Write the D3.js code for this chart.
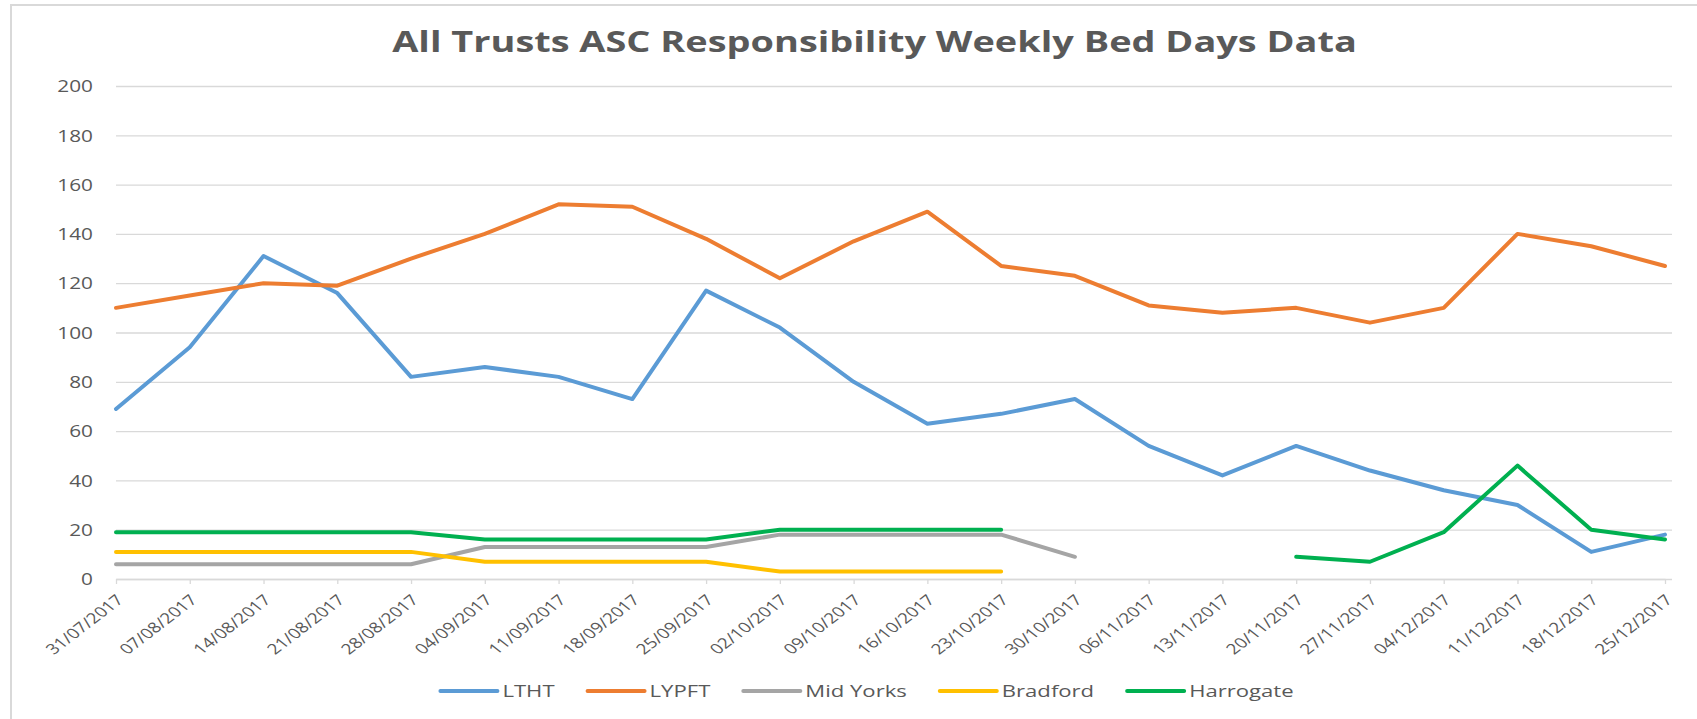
<!DOCTYPE html>
<html>
<head>
<meta charset="utf-8">
<script src="https://cdn.jsdelivr.net/npm/d3@7"></script>
<style>
  body { margin: 0; background: #fff; }
  text { font-family: "Open Sans", sans-serif; fill: #595959; }
</style>
</head>
<body>
<div id="chart"></div>
<script>
var weeks = ["31/07/2017", "07/08/2017", "14/08/2017", "21/08/2017", "28/08/2017", "04/09/2017",
  "11/09/2017", "18/09/2017", "25/09/2017", "02/10/2017", "09/10/2017", "16/10/2017",
  "23/10/2017", "30/10/2017", "06/11/2017", "13/11/2017", "20/11/2017", "27/11/2017",
  "04/12/2017", "11/12/2017", "18/12/2017", "25/12/2017"];

var ltht = [69, 94, 131, 116, 82, 86, 82, 73, 117, 102, 80, 63, 67, 73, 54, 42, 54, 44, 36, 30, 11, 18];
var lypft = [110, 115, 120, 119, 130, 140, 152, 151, 138, 122, 137, 149, 127, 123, 111, 108, 110, 104, 110, 140, 135, 127];
var midYorks = [6, 6, 6, 6, 6, 13, 13, 13, 13, 18, 18, 18, 18, 9, null, null, null, null, null, null, null, null];
var bradford = [11, 11, 11, 11, 11, 7, 7, 7, 7, 3, 3, 3, 3, null, null, null, null, null, null, null, null, null];
var harrogate = [19, 19, 19, 19, 19, 16, 16, 16, 16, 20, 20, 20, 20, null, null, null, 9, 7, 19, 46, 20, 16];

var seriesNames = ["LTHT", "LYPFT", "Mid Yorks", "Bradford", "Harrogate"];
var seriesColors = ["#5B9BD5", "#ED7D31", "#A5A5A5", "#FFC000", "#00B050"];
var yTicks = [0, 20, 40, 60, 80, 100, 120, 140, 160, 180, 200];

var chartTitle = "All Trusts ASC Responsibility Weekly Bed Days Data";

var W = 1697, H = 719;
var margin = {top: 86, right: 32, bottom: 140, left: 116},
    width = W - margin.left - margin.right,
    height = H - margin.top - margin.bottom;
var sx = 1.3; // reference text is stretched sideways

var root = d3.select("#chart")
  .append("svg")
    .attr("width", W)
    .attr("height", H);

// chart area border (left and top visible)
root.append("path")
  .attr("d", "M11,719 L11,5 L1697,5")
  .attr("fill", "none")
  .attr("stroke", "#D9D9D9")
  .attr("stroke-width", 2);

var title = root.append("text")
  .attr("text-anchor", "middle")
  .style("font-size", "29px")
  .style("font-weight", "bold")
  .text(chartTitle);
var tl = title.node().getComputedTextLength();
title.attr("transform", "translate(874.5,52) scale(" + (965 / tl) + ",1)");

var svg = root.append("g")
  .attr("transform", "translate(" + margin.left + "," + margin.top + ")");

var x = d3.scalePoint()
  .domain(weeks)
  .range([0, width]);

var y = d3.scaleLinear()
  .domain([0, 200])
  .range([height, 0]);

var yAxis = svg.append("g")
  .call(d3.axisLeft(y).tickValues(yTicks).tickSize(-(width + 7)).tickPadding(0));
yAxis.select(".domain").remove();
yAxis.selectAll("line")
  .attr("stroke", "#D9D9D9")
  .attr("stroke-width", 1.3);
yAxis.selectAll("text")
  .attr("x", 0)
  .attr("dy", "0.36em")
  .attr("transform", "translate(-23,0) scale(" + sx + ",1)")
  .style("font-size", "16px")
  .attr("fill", "#595959");

var xAxis = svg.append("g")
  .attr("transform", "translate(0," + height + ")")
  .call(d3.axisBottom(x).tickSize(5).tickSizeOuter(0));
xAxis.select(".domain")
  .attr("stroke", "#D9D9D9")
  .attr("stroke-width", 1.3);
xAxis.selectAll("line")
  .attr("stroke", "#D9D9D9")
  .attr("stroke-width", 1.3);
xAxis.selectAll("text")
  .attr("x", 0)
  .attr("y", 0)
  .attr("dy", 0)
  .style("text-anchor", "end")
  .style("font-size", "14.5px")
  .attr("fill", "#595959")
  .attr("transform", "translate(8,22) scale(" + sx + ",1) rotate(-45)");

var allSeries = [ltht, lypft, midYorks, bradford, harrogate];

var line = d3.line()
  .defined(function(d) { return d != null; })
  .x(function(d, i) { return x(weeks[i]); })
  .y(function(d) { return y(d); });

svg.selectAll(".series")
  .data(allSeries)
  .enter()
  .append("path")
    .attr("class", "series")
    .attr("fill", "none")
    .attr("stroke", function(d, i) { return seriesColors[i]; })
    .attr("stroke-width", 4)
    .attr("stroke-linejoin", "round")
    .attr("stroke-linecap", "round")
    .attr("d", line);

// legend
var legend = root.append("g");
var lx = 0;
seriesNames.forEach(function(name, i) {
  var item = legend.append("g").attr("transform", "translate(" + lx + ",0)");
  item.append("line")
    .attr("x1", 2).attr("x2", 59)
    .attr("y1", 691).attr("y2", 691)
    .attr("stroke", seriesColors[i])
    .attr("stroke-width", 4)
    .attr("stroke-linecap", "round");
  var t = item.append("text")
    .style("font-size", "17px")
    .attr("transform", "translate(64,697) scale(" + sx + ",1)")
    .text(name);
  lx += 64 + t.node().getComputedTextLength() * sx + 31;
});
lx -= 31;
legend.attr("transform", "translate(" + (866 - lx / 2) + ",0)");
</script>
</body>
</html>
